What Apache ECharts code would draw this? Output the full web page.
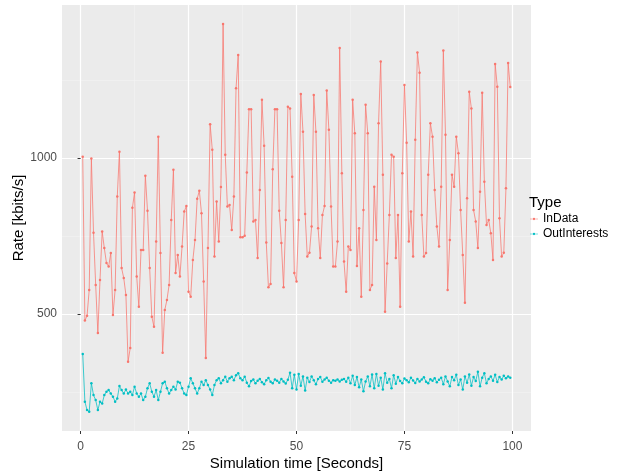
<!DOCTYPE html>
<html>
<head>
<meta charset="utf-8">
<script src="https://cdn.jsdelivr.net/npm/echarts@6/dist/echarts.min.js"></script>
<style>
  html, body { margin: 0; padding: 0; background: #fff; }
  #chart { width: 619px; height: 474px; }
</style>
</head>
<body>
<div id="chart"></div>
<script>
  // samples every 0.5 s, starting at t = 0.5
  var sampleStep = 0.5;
  var inData = [
    1004, 479, 494, 577, 998, 760, 593, 439, 609, 764, 711, 663, 652, 695, 497,
    577, 876, 1020, 647, 615, 561, 347, 391, 840, 889, 620, 523, 705, 705, 943,
    831, 647, 491, 459, 732, 1068, 695, 376, 513, 545, 593, 801, 962, 631, 689,
    620, 716, 828, 846, 571, 555, 673, 737, 869, 895, 823, 604, 359, 711, 1108,
    1026, 684, 860,
    732, 907, 1429, 1010, 844, 849, 769, 876, 1223, 1330, 746, 746, 751, 953, 1156,
    1156, 796, 801, 679, 897, 1186, 1039, 729, 586, 596, 964, 1156, 1156, 831, 727,
    586, 801, 1164, 1158, 940, 631, 604, 801, 1205, 1084, 820, 684, 696, 780, 1202,
    1084, 775, 679, 817, 846, 1216, 1090, 844, 652, 652, 732, 1352, 951, 668, 571,
    716, 705, 1186, 1079, 654, 775,
    555, 833, 1170, 1079, 577, 593, 908, 737, 1111, 1309, 946, 507, 662, 817, 1010,
    1004, 679, 817, 523, 951, 1234, 1049, 732, 828, 684, 1058, 1338, 1273, 817, 684,
    695, 946, 1111, 1068, 897, 780, 716, 908, 1344, 1074, 577, 737, 946, 908, 1068,
    1015, 833, 689, 536, 871, 1212, 1158, 833, 796, 711, 892, 1209, 924, 785, 801,
    759, 673, 1301, 1228, 807, 684, 696, 903, 1304, 1227
  ];
  var outInterests = [
    372, 219, 192, 187, 278, 240, 224, 192, 219, 213, 240, 251, 256, 245, 235,
    219, 229, 269, 256, 245, 258, 245, 251, 240, 267, 245, 235, 245, 224, 235,
    262, 278, 251, 235, 256, 224, 251, 278, 283, 262, 245, 256, 267, 258, 283,
    280, 262, 245, 240, 267, 294, 278, 262, 245, 262, 283, 272, 288, 272, 258,
    240, 272, 288, 294, 278, 288, 299, 283, 294, 299, 288, 304, 310, 294, 288, 299,
    280, 268, 285, 290, 278, 286, 292, 281, 275, 288,
    295, 283, 278, 290, 286, 280, 292, 284, 277, 289,
    312, 262, 305, 258, 308, 270, 300, 255, 296, 282,
    300, 288, 275, 292, 298, 283, 290, 296, 286, 280,
    288, 286, 290, 284, 289, 292, 283, 296, 278, 302,
    272, 298, 265, 290, 252, 284, 300, 268, 306, 262,
    308, 270, 296, 258, 310, 280, 292, 262, 304, 276,
    298, 285, 278, 293, 288, 281, 296, 287, 279, 292,
    284, 290, 297, 283, 278, 291, 286, 294, 281, 289,
    296, 275, 300, 284, 268, 298, 288, 305, 272, 290,
    258, 300, 280, 306, 270, 298, 285, 315, 268, 296,
    310, 278, 292, 300, 286, 305, 282, 298, 290, 302,
    294, 300, 296
  ];
  var xTicks = [0, 25, 50, 75, 100];
  var xMinor = [12.5, 37.5, 62.5, 87.5];
  var yTicks = [500, 1000];
  var yMinor = [250, 750, 1250];

  function toPairs(values) {
    return values.map(function (v, i) { return [sampleStep * (i + 1), v]; });
  }

  var font = 'Liberation Sans, Arial, sans-serif';
  // legend key: short line with a dot in the middle
  var keyIcon = 'path://M0,1.7L12,1.7L12,2.3L0,2.3Z M6,0.3A1.7,1.7,0,1,1,5.99,0.3Z';
  var chart = echarts.init(document.getElementById('chart'), null, { renderer: 'canvas' });

  var xBase = { type: 'value', min: -4.3, max: 104.3, gridIndex: 0 };
  var yBase = { type: 'value', min: 125, max: 1490, gridIndex: 0 };

  chart.setOption({
    animation: false,
    textStyle: { fontFamily: font },
    title: {
      text: 'Type', left: 529, top: 195, padding: 0,
      textStyle: { fontSize: 15, fontWeight: 'normal', color: '#000', fontFamily: font }
    },
    legend: {
      orient: 'vertical', left: 530, top: 213, itemGap: 3, padding: 0,
      itemWidth: 8, itemHeight: 4, icon: keyIcon,
      textStyle: { fontSize: 12, color: '#000', fontFamily: font },
      data: ['InData', 'OutInterests']
    },
    grid: {
      left: 62, right: 88, top: 5, bottom: 43,
      outerBoundsMode: 'none', containLabel: false,
      show: true, backgroundColor: '#EBEBEB', borderWidth: 0
    },
    xAxis: [
      Object.assign({}, xBase, {
        name: 'Simulation time [Seconds]', nameLocation: 'middle', nameGap: 25,
        nameMoveOverlap: false,
        nameTextStyle: { fontSize: 15, color: '#000', fontFamily: font },
        axisLine: { show: false },
        axisTick: { show: true, length: 3, lineStyle: { color: '#333' }, customValues: xTicks },
        axisLabel: { fontSize: 12, color: '#4D4D4D', margin: 10, customValues: xTicks },
        splitLine: { show: true, lineStyle: { color: '#FFFFFF', width: 1.2 } }
      }),
      Object.assign({}, xBase, {
        axisLine: { show: false },
        axisTick: { show: false, customValues: xMinor },
        axisLabel: { show: false, customValues: xMinor },
        splitLine: { show: true, lineStyle: { color: '#F4F4F4', width: 0.6 } }
      })
    ],
    yAxis: [
      Object.assign({}, yBase, {
        name: 'Rate [kbits/s]', nameLocation: 'middle', nameGap: 36,
        nameMoveOverlap: false,
        nameTextStyle: { fontSize: 15, color: '#000', fontFamily: font },
        axisLine: { show: false },
        axisTick: { show: true, length: 3, lineStyle: { color: '#333' }, customValues: yTicks },
        axisLabel: {
          fontSize: 12, color: '#4D4D4D', margin: 5, customValues: yTicks,
          formatter: function (v) { return String(v); }
        },
        splitLine: { show: true, lineStyle: { color: '#FFFFFF', width: 1.2 } }
      }),
      Object.assign({}, yBase, {
        position: 'left',
        axisLine: { show: false },
        axisTick: { show: false, customValues: yMinor },
        axisLabel: { show: false, customValues: yMinor },
        splitLine: { show: true, lineStyle: { color: '#F4F4F4', width: 0.6 } }
      })
    ],
    series: [
      {
        name: 'InData', type: 'line', xAxisIndex: 0, yAxisIndex: 0,
        data: toPairs(inData),
        symbol: 'circle', symbolSize: 2.5, showSymbol: true,
        itemStyle: { color: '#F8766D' },
        lineStyle: { color: '#F8766D', width: 1, opacity: 0.75 }
      },
      {
        name: 'OutInterests', type: 'line', xAxisIndex: 0, yAxisIndex: 0,
        data: toPairs(outInterests),
        symbol: 'circle', symbolSize: 2.5, showSymbol: true,
        itemStyle: { color: '#00BFC4' },
        lineStyle: { color: '#00BFC4', width: 1, opacity: 0.75 }
      }
    ]
  });
</script>
</body>
</html>
